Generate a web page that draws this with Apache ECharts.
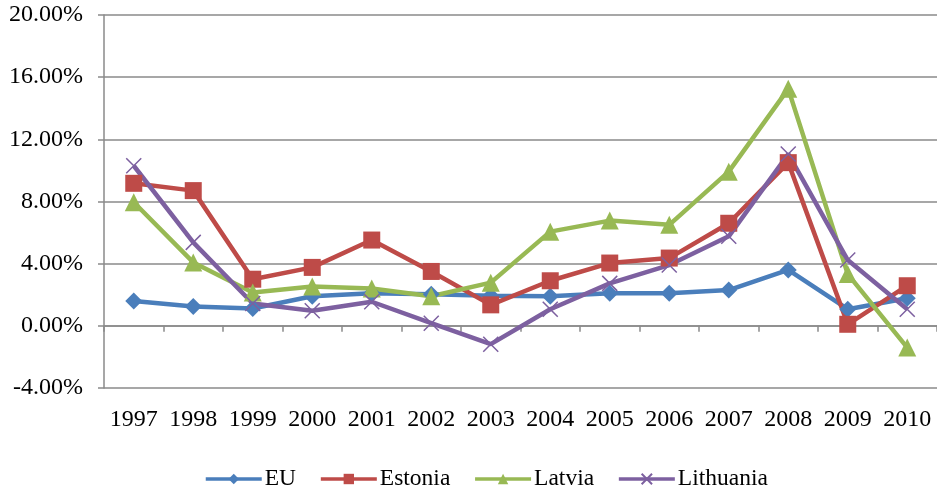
<!DOCTYPE html>
<html>
<head>
<meta charset="utf-8">
<script src="https://cdn.jsdelivr.net/npm/echarts@6/dist/echarts.min.js"></script>
<style>html,body{margin:0;padding:0;background:#fff;}#c{width:937px;height:486px;}</style>
</head>
<body>
<div id="c"></div>
<script>
const years = ['1997','1998','1999','2000','2001','2002','2003','2004','2005','2006','2007','2008','2009','2010'];
const eu        = [1.60, 1.25, 1.12, 1.90, 2.10, 2.04, 1.93, 1.90, 2.10, 2.10, 2.30, 3.60, 1.07, 1.78];
const estonia   = [9.17, 8.70, 3.00, 3.76, 5.52, 3.50, 1.35, 2.90, 4.04, 4.36, 6.60, 10.50, 0.10, 2.58];
const latvia    = [7.95, 4.08, 2.15, 2.53, 2.40, 1.90, 2.78, 6.06, 6.77, 6.50, 9.92, 15.25, 3.33, -1.40];
const lithuania = [10.30, 5.37, 1.44, 0.97, 1.55, 0.17, -1.18, 1.07, 2.73, 3.91, 5.76, 11.06, 4.23, 1.07];
const yTicks = { min: -4, max: 20, interval: 4 };

const font = '"Liberation Serif", "Times New Roman", serif';
const gray = '#8a8a8a';
const crossPath = 'path://M0,0L10,10M10,0L0,10';

function mk(name, data, color, symbol, size, extra) {
  return Object.assign({
    name, type: 'line', data, xAxisIndex: 0,
    symbol, symbolSize: size,
    lineStyle: { color, width: 4.5 },
    itemStyle: { color },
    emphasis: { disabled: true },
    animation: false
  }, extra || {});
}

const chart = echarts.init(document.getElementById('c'), null, { renderer: 'canvas' });
chart.setOption({
  animation: false,
  grid: { left: 104, right: -5, top: 15, bottom: 98, containLabel: false },
  legend: {
    left: 199, top: 462,
    itemWidth: 56, itemHeight: 13, itemGap: 23,
    lineStyle: { width: 3.5 },
    textStyle: { fontFamily: font, fontSize: 23.5, color: '#000', padding: [0, 0, 0, -2] },
    data: ['EU', 'Estonia', 'Latvia', 'Lithuania']
  },
  xAxis: [
    {
      type: 'category', data: years, position: 'bottom',
      axisLine: { onZero: true, lineStyle: { color: gray, width: 1.5 } },
      axisTick: { show: true, length: 6, interval: 0, lineStyle: { color: gray, width: 1.5 } },
      axisLabel: { show: false },
      splitLine: { show: false }
    },
    {
      type: 'category', data: years, position: 'bottom',
      axisLine: { show: false, onZero: false },
      axisTick: { show: false },
      axisLabel: { show: true, interval: 0, margin: 20, fontFamily: font, fontSize: 24, color: '#000' },
      splitLine: { show: false }
    }
  ],
  yAxis: {
    type: 'value', min: yTicks.min, max: yTicks.max, interval: yTicks.interval,
    axisLine: { show: true, lineStyle: { color: gray, width: 1.5 } },
    axisTick: { show: true, length: 6, lineStyle: { color: gray, width: 1.5 } },
    axisLabel: { margin: 21, fontFamily: font, fontSize: 24, color: '#000',
      formatter: v => v.toFixed(2) + '%' },
    splitLine: { show: true, lineStyle: { color: gray, width: 1.5 } }
  },
  series: [
    mk('EU', eu, '#4A7EBB', 'diamond', 17),
    mk('Estonia', estonia, '#BE4B48', 'rect', 17),
    mk('Latvia', latvia, '#98B954', 'triangle', 18),
    mk('Lithuania', lithuania, '#7D60A0', crossPath, 15,
      { itemStyle: { color: 'rgba(0,0,0,0)', borderColor: '#7D60A0', borderWidth: 1.5 } })
  ]
});
</script>
</body>
</html>
